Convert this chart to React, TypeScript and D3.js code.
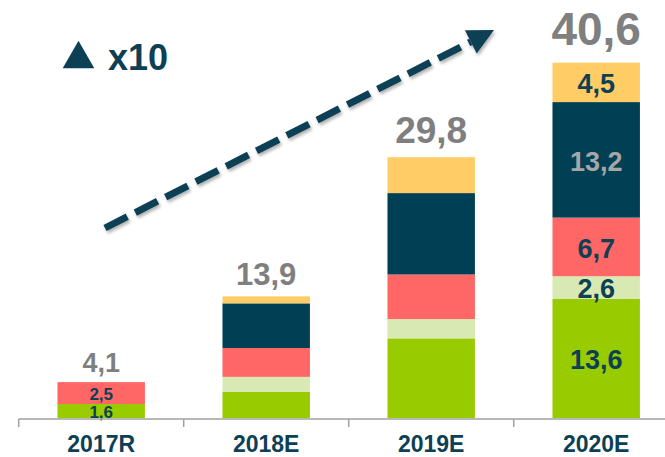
import React from "react";
import * as d3 from "d3";

const categories = ["2017R", "2018E", "2019E", "2020E"];
const seriesKeys = ["green", "lightGreen", "red", "navy", "yellow"];
const green = [1.6, 3.0, 9.1, 13.6];
const lightGreen = [0, 1.7, 2.2, 2.6];
const red = [2.5, 3.3, 5.1, 6.7];
const navy = [0, 5.1, 9.3, 13.2];
const yellow = [0, 0.8, 4.1, 4.5];
const totals = [4.1, 13.9, 29.8, 40.6];
const labeledCategories = ["2017R", "2020E"];
const growthLabel = "x10";

const W = 665;
const H = 457;
const colors: Record<string, string> = {
  green: "#99cc00",
  lightGreen: "#d8e9b3",
  red: "#ff6666",
  navy: "#013f55",
  yellow: "#ffcc66",
};
const labelColors: Record<string, string> = {
  green: "#0d3f55",
  lightGreen: "#0d3f55",
  red: "#0d3f55",
  navy: "#a6a6a6",
  yellow: "#0d3f55",
};
const totalFontSizes = [27, 31, 37, 46];
const segFontSizes: Record<string, number> = { "2017R": 17, "2020E": 27 };
const FONT = "'Liberation Sans', Arial, sans-serif";
const fmt = (v: number) => v.toFixed(1).replace(".", ",");

export default function App() {
  const values: Record<string, number[]> = { green, lightGreen, red, navy, yellow };
  const table = categories.map((c, i) => {
    const row: any = { category: c };
    seriesKeys.forEach((k) => (row[k] = values[k][i]));
    return row;
  });
  const stacked = d3.stack().keys(seriesKeys)(table);

  const x = d3
    .scaleBand()
    .domain(categories)
    .range([18.7, 678.7])
    .paddingInner(0.47)
    .paddingOuter(0.235);
  const y = d3
    .scaleLinear()
    .domain([0, d3.max(totals) as number])
    .range([418, 62.7]);

  const axisY = 419;
  const step = x.step();
  const tickXs = d3.range(categories.length + 1).map((i) => 18.7 + i * step);

  // Arrow annotation
  const ax0 = 105, ay0 = 228, tipX = 494, tipY = 30;
  const ang = Math.atan2(tipY - ay0, tipX - ax0);
  const headLen = 26, headHalf = 13;
  const bx = tipX - headLen * Math.cos(ang);
  const by = tipY - headLen * Math.sin(ang);
  const px = -Math.sin(ang), py = Math.cos(ang);
  const head = [
    [tipX, tipY],
    [bx + px * headHalf, by + py * headHalf],
    [bx - px * headHalf, by - py * headHalf],
  ]
    .map((p) => p.join(","))
    .join(" ");

  return (
    <svg
      width={W}
      height={H}
      style={{ position: "absolute", left: 0, top: 0, background: "#fff" }}
      fontFamily={FONT}
    >
      <defs>
        <filter id="shadow" x="-10%" y="-10%" width="130%" height="140%">
          <feDropShadow dx="1.5" dy="2.5" stdDeviation="1.5" floodColor="#000" floodOpacity="0.3" />
        </filter>
      </defs>

      {/* bars */}
      {stacked.map((layer) => (
        <g key={layer.key} fill={colors[layer.key]}>
          {layer.map((d, i) =>
            d[1] - d[0] > 0 ? (
              <rect
                key={i}
                x={x(categories[i])}
                y={y(d[1])}
                width={x.bandwidth()}
                height={y(d[0]) - y(d[1])}
              />
            ) : null
          )}
        </g>
      ))}

      {/* segment labels */}
      {stacked.map((layer) =>
        layer.map((d, i) => {
          const cat = categories[i];
          const v = d[1] - d[0];
          if (!labeledCategories.includes(cat) || v <= 0) return null;
          const fs = segFontSizes[cat];
          const mid = (y(d[0]) + y(d[1])) / 2;
          return (
            <text
              key={layer.key + i}
              x={(x(cat) as number) + x.bandwidth() / 2}
              y={mid + fs * 0.36 + 1}
              textAnchor="middle"
              fontWeight="bold"
              fontSize={fs}
              fill={labelColors[layer.key]}
            >
              {fmt(v)}
            </text>
          );
        })
      )}

      {/* totals */}
      {totals.map((t, i) => (
        <text
          key={i}
          x={(x(categories[i]) as number) + x.bandwidth() / 2}
          y={y(t) - totalFontSizes[i] * 0.38}
          textAnchor="middle"
          fontWeight="bold"
          fontSize={totalFontSizes[i]}
          fill="#7f7f7f"
        >
          {fmt(t)}
        </text>
      ))}

      {/* axis */}
      <line x1={18.7} x2={W} y1={axisY} y2={axisY} stroke="#a0a0a0" strokeWidth={1.5} />
      {tickXs.map((tx, i) => (
        <line key={i} x1={tx} x2={tx} y1={axisY} y2={axisY + 8} stroke="#a0a0a0" strokeWidth={1.5} />
      ))}
      {categories.map((c) => (
        <text
          key={c}
          x={(x(c) as number) + x.bandwidth() / 2}
          y={452}
          textAnchor="middle"
          fontWeight="bold"
          fontSize={23}
          fill="#0d3f55"
        >
          {c}
        </text>
      ))}

      {/* growth arrow */}
      <g filter="url(#shadow)">
        <line
          x1={ax0}
          y1={ay0}
          x2={bx}
          y2={by}
          stroke="#0d3f55"
          strokeWidth={7}
          strokeDasharray="25 9"
        />
        <polygon points={head} fill="#0d3f55" />
      </g>

      {/* x10 label */}
      <polygon points="62.7,68.3 94.3,68.3 78.5,40.7" fill="#0d3f55" />
      <text x={108} y={70} fontWeight="bold" fontSize={36} fill="#0d3f55">
        {growthLabel}
      </text>
    </svg>
  );
}
